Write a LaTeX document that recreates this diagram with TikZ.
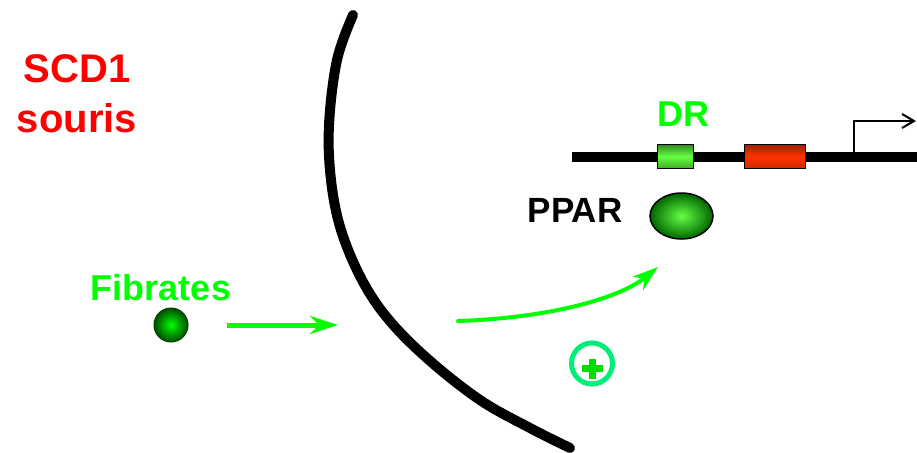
\documentclass[tikz,border=0pt]{standalone}
\usepackage{fontspec}
\setmainfont{Liberation Sans}
\usepackage{tikz}
\usetikzlibrary{arrows.meta,positioning,shapes.geometric}
\definecolor{vert}{HTML}{00FF00}
\definecolor{rouge}{HTML}{FF0000}
\definecolor{anneau}{HTML}{00EE77}
\definecolor{plusvert}{HTML}{00DD00}
\definecolor{drhaut}{HTML}{2E8B1E}
\definecolor{drmilieu}{HTML}{66FF44}
\definecolor{drbas}{HTML}{3FAA22}
\definecolor{rhaut}{HTML}{992200}
\definecolor{rmilieu}{HTML}{FF3300}
\definecolor{rbas}{HTML}{CC2A00}

\begin{document}
\begin{tikzpicture}[
  x=1pt,y=-1pt,
  txt/.style={inner sep=0pt,anchor=base,font=\bfseries\fontsize{#1}{50}\selectfont},
  dna/.style={line width=10pt},
  site/.style={draw,line width=1.5pt,minimum width=36pt,minimum height=24pt,inner sep=0pt},
  membrane/.style={line width=10pt,line cap=round},
  flow/.style={vert,line width=5pt,-{Stealth[length=28pt,width=18pt,inset=9pt]}},
  flowcurve/.style={vert,line width=4pt,line cap=round,-{Stealth[length=26pt,width=17pt,inset=8pt]}}
]
\useasboundingbox (0,0) rectangle (917,452);

% texts
\node[align=center,inner sep=0pt,text=rouge,font=\bfseries\fontsize{40}{50}\selectfont] (scd) at (77,94) {SCD1\\souris};
\node[txt=36,text=vert] (fibtxt) at (161,300) {Fibrates};
\node[txt=36,text=vert] (dr) at (683,126) {DR};
\node[txt=35] (ppartxt) at (575,222) {PPAR};

% membrane
\draw[membrane] plot[smooth,tension=0.6] coordinates {(353,15) (337,60) (329,125) (331,180) (341,230) (362,280) (389,320) (429,360) (480,400) (530,428) (570,448)};

% gene
\coordinate (dnaL) at (572,157);
\coordinate (dnaR) at (917,157);
\draw[dna] (dnaL) -- (dnaR);
\node[site,top color=drhaut,bottom color=drbas,middle color=drmilieu] (drbox) at (675.5,156.5) {};
\node[site,minimum width=61pt,top color=rhaut,bottom color=rbas,middle color=rmilieu] (rbox) at (775,156.5) {};
\coordinate (tss) at (854,157);
\coordinate (tx) at (916,121);
\draw[line width=2pt,-{Straight Barb[length=12pt,width=14pt]}] (tss) |- (tx);

% ligand and receptor
\node[ellipse,draw,line width=1.5pt,minimum width=63pt,minimum height=46pt,inner sep=0pt,inner color=drmilieu,outer color=black!60!green] (ppar) at (681.5,216) {};
\node[circle,draw=black!75!green,line width=1pt,minimum size=34pt,inner sep=0pt,inner color=vert,outer color=black!70!green] (fibball) at (171,325) {};

% arrows
\coordinate (in1) at (227,325);
\coordinate (in2) at (338,325);
\draw[flow] (in1) -- (in2);
\coordinate (c1) at (458,321);
\coordinate (c2) at (658,267);
\draw[flowcurve] (c1) .. controls (550,318) and (620,298) .. (c2);

% plus
\node[circle,draw=anneau,line width=5pt,minimum size=41pt,inner sep=0pt] (plus) at (592,363.5) {};
\draw[plusvert,line width=7pt] ([shift={(-10.5pt,-5pt)}]plus.center) -- ([shift={(10.5pt,-5pt)}]plus.center);
\draw[plusvert,line width=7pt] ([shift={(0pt,5pt)}]plus.center) -- ([shift={(0pt,-15pt)}]plus.center);
\end{tikzpicture}
\end{document}
